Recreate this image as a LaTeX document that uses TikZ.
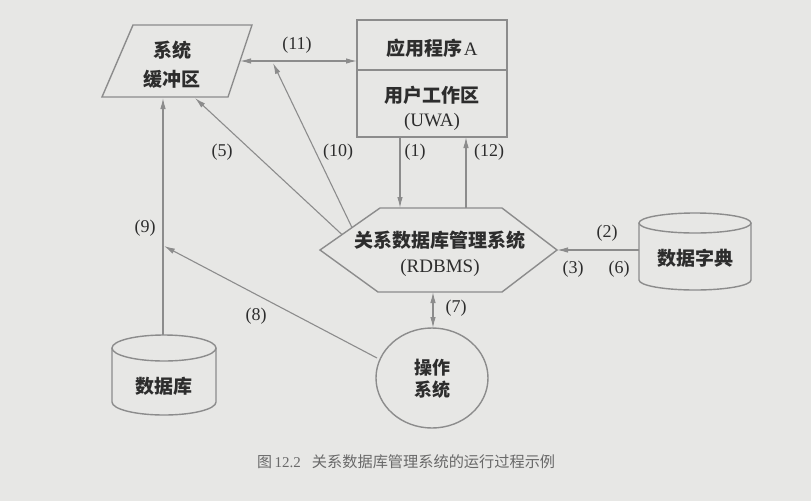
\documentclass[tikz,border=0pt]{standalone}
\usepackage{fontspec}
\setmainfont{Liberation Serif}
\newfontfamily\cjk{Noto Sans CJK SC}
\usetikzlibrary{arrows.meta,shapes.geometric}
\definecolor{bg}{RGB}{231,231,229}
\definecolor{ln}{RGB}{140,140,140}
\definecolor{tx}{RGB}{45,45,45}
\definecolor{captx}{RGB}{105,105,105}
\begin{document}
\begin{tikzpicture}[x=1pt,y=-1pt,
  shapeline/.style={draw=ln,line width=1.4pt},
  conn/.style={draw=ln,line width=1.1pt},
  arr/.style={conn,-{Latex[length=11pt,width=5.5pt]}},
  darr/.style={conn,{Latex[length=11pt,width=5.5pt]}-{Latex[length=11pt,width=5.5pt]}},
  lbl/.style={text=tx,font=\cjk\bfseries\fontsize{19}{29}\selectfont,align=center,inner sep=0pt},
  latin/.style={text=tx,font=\fontsize{19}{22}\selectfont,inner sep=0pt},
  num/.style={text=tx,font=\fontsize{18}{20}\selectfont,inner sep=0pt},
]
\fill[bg] (0,0) rectangle (811,501);
\useasboundingbox (0,0) rectangle (811,501);

% system buffer (parallelogram)
\coordinate (bufA) at (133,25);
\coordinate (bufB) at (252,25);
\coordinate (bufC) at (228,97);
\coordinate (bufD) at (102,97);
\draw[shapeline] (bufA) -- (bufB) -- (bufC) -- (bufD) -- cycle;
\node[lbl] (buf) at (172,64.5) {系统\\缓冲区};
\coordinate (bufR) at (240,61);
\coordinate (buf5) at (195,98);
\coordinate (buf9) at (163,98);

% application program box
\coordinate (appTL) at (357,20);
\coordinate (appBR) at (507,137);
\draw[shapeline] (appTL) rectangle (appBR);
\draw[shapeline] (357,70) -- (507,70);
\node[text=tx,inner sep=0pt] (app) at (432,48) {{\cjk\bfseries\fontsize{19}{22}\selectfont 应用程序}\,{\fontsize{19}{22}\selectfont A}};
\node[lbl] (uwa) at (432,95) {用户工作区};
\node[latin] (uwab) at (432,122) {(UWA)};
\coordinate (appL) at (357,61);
\coordinate (app1) at (400,137);
\coordinate (app12) at (466,137);

% RDBMS hexagon
\coordinate (hL) at (320,250);
\coordinate (hTL) at (380,208);
\coordinate (hTR) at (502,208);
\coordinate (hR) at (557,250);
\coordinate (hBR) at (502,292);
\coordinate (hBL) at (378,292);
\draw[shapeline] (hL) -- (hTL) -- (hTR) -- (hR) -- (hBR) -- (hBL) -- cycle;
\node[lbl] (rdbms) at (440,240) {关系数据库管理系统};
\node[latin] (rdbmsb) at (440,268) {(RDBMS)};
\coordinate (h1) at (400,208);
\coordinate (h12) at (466,208);
\coordinate (h5) at (342,234.6);
\coordinate (h10) at (352,227.6);
\coordinate (h7) at (433,292);

% operating system
\node[shapeline,ellipse,minimum width=112pt,minimum height=100pt,inner sep=0pt] (os) at (432,378) {};
\node[text=tx,font=\cjk\bfseries\fontsize{18}{22}\selectfont,align=center,inner sep=0pt] (ostext) at (432,379) {操作\\系统};
\coordinate (os7) at (433,328);
\coordinate (os8) at (377,358);

% database cylinder
\draw[shapeline] (112,348) -- (112,402) arc[start angle=180,end angle=360,x radius=52pt,y radius=13pt] -- (216,348);
\draw[shapeline] (164,348) ellipse[x radius=52pt,y radius=13pt];
\node[lbl] (db) at (164,386) {数据库};
\coordinate (dbtop) at (163,335);

% data dictionary cylinder
\draw[shapeline] (639,223) -- (639,280) arc[start angle=180,end angle=360,x radius=56pt,y radius=10pt] -- (751,223);
\draw[shapeline] (695,223) ellipse[x radius=56pt,y radius=10pt];
\node[lbl] (dd) at (695,258) {数据字典};
\coordinate (ddL) at (639,250);

% junctions
\coordinate (j8) at (164,246);
\coordinate (j10) at (273,63);

% connectors
\draw[darr] (bufR) -- (appL);
\draw[arr] (h10) -- (j10);
\draw[arr] (h5) -- (buf5);
\draw[arr] (dbtop) -- (buf9);
\draw[arr] (os8) -- (j8);
\draw[arr] (app1) -- (h1);
\draw[arr] (h12) -- (app12);
\draw[darr] (h7) -- (os7);
\draw[arr] (ddL) -- (hR);

% labels
\node[num] (l11) at (297,45) {(11)};
\node[num] (l5) at (222,152) {(5)};
\node[num] (l10) at (338,152) {(10)};
\node[num] (l1) at (415,152) {(1)};
\node[num] (l12) at (489,152) {(12)};
\node[num] (l9) at (145,228) {(9)};
\node[num] (l8) at (256,316) {(8)};
\node[num] (l7) at (456,308) {(7)};
\node[num] (l2) at (607,233) {(2)};
\node[num] (l3) at (573,269) {(3)};
\node[num] (l6) at (619,269) {(6)};

% caption
\node[text=captx,inner sep=0pt,anchor=west] (cap) at (257,462) {{\cjk\fontsize{15}{18}\selectfont 图}\ {\fontsize{15}{18}\selectfont 12.2}\hspace{11pt}{\cjk\fontsize{15.2}{18}\selectfont 关系数据库管理系统的运行过程示例}};
\end{tikzpicture}
\end{document}
